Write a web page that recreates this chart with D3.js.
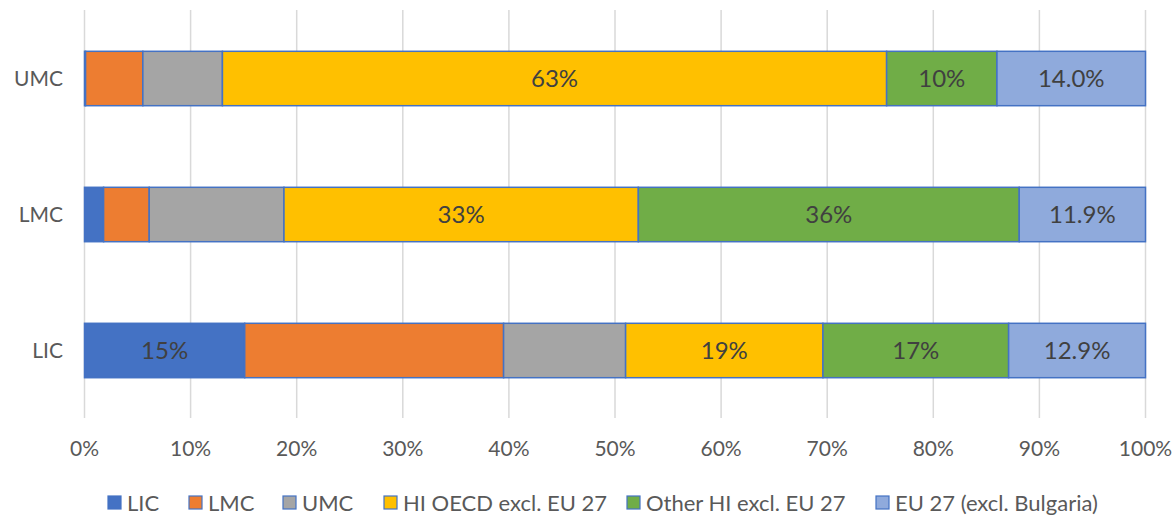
<!DOCTYPE html>
<html><head><meta charset="utf-8">
<script src="https://cdn.jsdelivr.net/npm/d3@7"></script>
<style>body{margin:0;background:#fff}svg{display:block;font-family:Lato,"Open Sans",sans-serif}</style>
</head><body><svg id="c" width="1176" height="516"></svg>
<script>
const categories = ["UMC", "LMC", "LIC"];
const seriesNames = ["LIC", "LMC", "UMC", "HI OECD excl. EU 27", "Other HI excl. EU 27", "EU 27 (excl. Bulgaria)"];
const licValues = [0.1, 1.8, 15.1];
const lmcValues = [5.4, 4.3, 24.4];
const umcValues = [7.5, 12.7, 11.5];
const hiOecdValues = [62.6, 33.4, 18.6];
const otherHiValues = [10.4, 35.9, 17.5];
const eu27Values = [14.0, 11.9, 12.9];
const licLabels = [null, null, "15%"];
const lmcLabels = [null, null, null];
const umcLabels = [null, null, null];
const hiOecdLabels = ["63%", "33%", "19%"];
const otherHiLabels = ["10%", "36%", "17%"];
const eu27Labels = ["14.0%", "11.9%", "12.9%"];
const tickValues = [0, 10, 20, 30, 40, 50, 60, 70, 80, 90, 100];
const colors = ["#4472C4", "#ED7D31", "#A5A5A5", "#FFC000", "#70AD47", "#8FAADC"];

const allValues = [licValues, lmcValues, umcValues, hiOecdValues, otherHiValues, eu27Values];
const allLabels = [licLabels, lmcLabels, umcLabels, hiOecdLabels, otherHiLabels, eu27Labels];

const svg = d3.select("#c");
const x = d3.scaleLinear().domain([0, 100]).range([84.5, 1145.5]);
const y = d3.scaleBand().domain(categories).range([10.5, 418.5]).paddingInner(0.6).paddingOuter(0.3);

// gridlines
svg.append("g").selectAll("line").data(tickValues).join("line")
  .attr("x1", d => x(d)).attr("x2", d => x(d))
  .attr("y1", 10).attr("y2", 418)
  .attr("stroke", "#d9d9d9").attr("stroke-width", 1.5);

// tick labels
svg.append("g").selectAll("text").data(tickValues).join("text")
  .attr("x", d => x(d)).attr("y", 449).attr("dy", "0.35em")
  .attr("text-anchor", "middle").attr("font-size", 21).attr("fill", "#595959")
  .text(d => d + "%");

// category labels
svg.append("g").selectAll("text").data(categories).join("text")
  .attr("x", 63).attr("y", d => y(d) + y.bandwidth() / 2).attr("dy", "0.35em")
  .attr("text-anchor", "end").attr("font-size", 21).attr("fill", "#595959")
  .text(d => d);

// stacked data
const rows = categories.map((c, i) => {
  const o = {cat: c};
  seriesNames.forEach((s, j) => o[s] = allValues[j][i]);
  return o;
});
const stack = d3.stack().keys(seriesNames)(rows);

const gBars = svg.append("g");
stack.forEach((layer, j) => {
  const g = gBars.append("g");
  g.selectAll("rect").data(layer).join("rect")
    .attr("x", d => x(d[0])).attr("width", d => x(d[1]) - x(d[0]))
    .attr("y", d => y(d.data.cat)).attr("height", y.bandwidth())
    .attr("fill", colors[j]).attr("stroke", "#4472C4").attr("stroke-width", 1.5);
});
stack.forEach((layer, j) => {
  svg.append("g").selectAll("text").data(layer.map((d, i) => ({d, lab: allLabels[j][i]})).filter(e => e.lab))
    .join("text")
    .attr("x", e => (x(e.d[0]) + x(e.d[1])) / 2)
    .attr("y", e => y(e.d.data.cat) + y.bandwidth() / 2).attr("dy", "0.35em")
    .attr("text-anchor", "middle").attr("font-size", 24).attr("fill", "#404040")
    .text(e => e.lab);
});

// legend
const legendX = [108, 189, 283, 384, 627, 876];
const lg = svg.append("g");
seriesNames.forEach((s, j) => {
  lg.append("rect").attr("x", legendX[j]).attr("y", 496).attr("width", 13).attr("height", 13)
    .attr("fill", colors[j]).attr("stroke", "#4472C4").attr("stroke-width", 1.2);
  lg.append("text").attr("x", legendX[j] + 19).attr("y", 503).attr("dy", "0.35em")
    .attr("font-size", 22).attr("fill", "#595959").text(s);
});
</script></body></html>
